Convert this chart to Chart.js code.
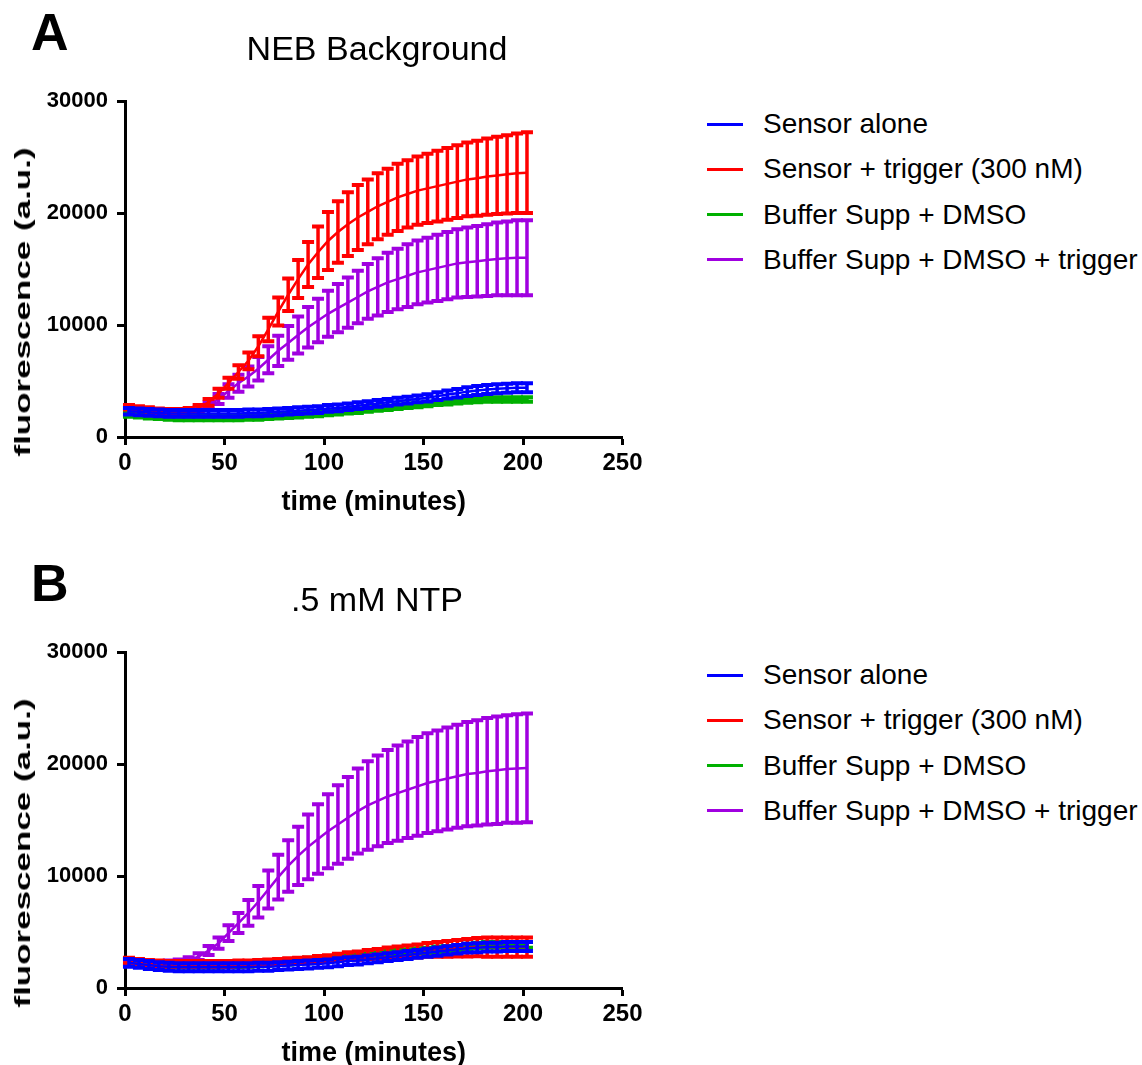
<!DOCTYPE html>
<html>
<head>
<meta charset="utf-8">
<title>Sensor fluorescence time course</title>
<script src="https://cdn.jsdelivr.net/npm/chart.js@4.4.1/dist/chart.umd.min.js"></script>
<style>
  body { margin: 0; width: 1142px; height: 1065px; overflow: hidden; background: #fff;
         font-family: 'Liberation Sans', Arial, sans-serif; color: #000; }
  .panel { position: absolute; left: 0; width: 1142px; height: 520px; }
  .panel canvas { position: absolute; left: 0; top: 0; }
  .tag { position: absolute; left: 31px; top: 6px; font-size: 52px; font-weight: bold; line-height: 1; }
  .ptitle { position: absolute; left: 377px; top: 31px; font-size: 34px; line-height: 1;
            transform: translateX(-50%); white-space: nowrap; }
  .ytitle { position: absolute; left: 23px; top: 302px; font-size: 22px; font-weight: bold; line-height: 1;
            white-space: nowrap; transform: translate(-50%, -50%) rotate(-90deg) scaleX(1.59); }
  .legend-row { position: absolute; left: 707px; height: 0; }
  .legend-row .swatch { position: absolute; left: 0; top: -1.5px; width: 36px; height: 3px; }
  .legend-row .label { position: absolute; left: 56px; top: -14px; font-size: 28px; line-height: 1; white-space: nowrap; }
</style>
</head>
<body>

<div class="panel" id="panelA" style="top:0">
  <canvas id="chartA" width="660" height="520"></canvas>
  <div class="tag">A</div>
  <div class="ptitle">NEB Background</div>
  <div class="ytitle">fluorescence (a.u.)</div>
</div>

<div class="panel" id="panelB" style="top:551px">
  <canvas id="chartB" width="660" height="520"></canvas>
  <div class="tag">B</div>
  <div class="ptitle">.5 mM NTP</div>
  <div class="ytitle">fluorescence (a.u.)</div>
</div>

<script>
// sampling times (minutes), shared by both panels
const timeMin = [2, 7, 12, 17, 22, 27, 32, 37, 42, 47, 52, 57, 62, 67, 72, 77, 82, 87, 92, 97,
  102, 107, 112, 117, 122, 127, 132, 137, 142, 147, 152, 157, 162, 167, 172, 177, 182, 187, 192, 197, 202];

const seriesNames = ['Sensor alone', 'Sensor + trigger (300 nM)', 'Buffer Supp + DMSO', 'Buffer Supp + DMSO + trigger'];
const seriesColors = ['#0000FF', '#FF0000', '#00B000', '#A000E0'];

const xTicks = [0, 50, 100, 150, 200, 250];
const yTicks = [0, 10000, 20000, 30000];

// Panel A: NEB background (mean, error)
const nebSensor = [2300, 2250, 2200, 2150, 2100, 2100, 2100, 2100, 2100, 2100, 2100, 2100, 2150, 2150, 2200, 2250, 2300, 2350, 2400, 2450,
  2550, 2600, 2700, 2800, 2900, 3000, 3100, 3200, 3300, 3400, 3500, 3650, 3800, 3900, 4050, 4150, 4250, 4300, 4350, 4400, 4400];
const nebSensorErr = [300, 300, 300, 300, 300, 300, 300, 300, 300, 300, 300, 300, 300, 300, 300, 300, 300, 300, 300, 300,
  300, 300, 300, 300, 300, 300, 300, 300, 300, 300, 320, 340, 360, 380, 400, 400, 400, 400, 400, 400, 400];
const nebTrigger = [2650, 2550, 2450, 2350, 2300, 2300, 2400, 2600, 3100, 3900, 4800, 5800, 6800, 8100, 9600, 11200, 12700, 14100, 15400, 16500,
  17500, 18300, 19000, 19600, 20100, 20600, 21000, 21400, 21700, 22000, 22200, 22400, 22600, 22800, 23000, 23100, 23250, 23350, 23450, 23550, 23600];
const nebTriggerErr = [200, 200, 200, 200, 200, 200, 200, 250, 300, 400, 500, 600, 750, 900, 1050, 1250, 1450, 1700, 2000, 2300,
  2600, 2750, 2850, 2900, 2900, 2950, 2950, 3000, 3000, 3050, 3100, 3150, 3200, 3250, 3300, 3350, 3400, 3450, 3500, 3550, 3600];
const nebBuffer = [2000, 1950, 1850, 1800, 1750, 1700, 1700, 1700, 1700, 1700, 1700, 1700, 1750, 1750, 1800, 1850, 1900, 1950, 2000, 2050,
  2150, 2200, 2300, 2350, 2450, 2550, 2600, 2700, 2800, 2850, 2950, 3050, 3100, 3200, 3250, 3300, 3350, 3350, 3350, 3350, 3350];
const nebBufferErr = [200, 200, 200, 200, 200, 200, 200, 200, 200, 200, 200, 200, 200, 200, 200, 200, 200, 200, 200, 200,
  200, 200, 200, 200, 200, 200, 200, 200, 200, 200, 200, 200, 200, 200, 200, 200, 200, 200, 200, 200, 200];
const nebBufferTrigger = [2350, 2300, 2250, 2200, 2200, 2200, 2250, 2400, 2800, 3400, 4100, 4800, 5400, 6100, 6900, 7700, 8400, 9100, 9800, 10400,
  11000, 11500, 12000, 12500, 13000, 13400, 13800, 14100, 14400, 14700, 14900, 15100, 15300, 15500, 15600, 15700, 15800, 15900, 15950, 16000, 16000];
const nebBufferTriggerErr = [200, 200, 200, 200, 200, 200, 200, 250, 300, 450, 600, 750, 900, 1050, 1200, 1350, 1500, 1650, 1800, 1950,
  2050, 2150, 2250, 2350, 2450, 2550, 2650, 2700, 2800, 2850, 2900, 2950, 3000, 3050, 3100, 3150, 3200, 3250, 3300, 3350, 3350];

// Panel B: 0.5 mM NTP (mean, error)
const ntpSensor = [2250, 2150, 2050, 1950, 1900, 1850, 1850, 1850, 1850, 1850, 1850, 1850, 1850, 1900, 1900, 1950, 2000, 2050, 2100, 2150,
  2200, 2300, 2400, 2450, 2550, 2650, 2750, 2850, 2950, 3050, 3150, 3250, 3350, 3450, 3550, 3600, 3650, 3650, 3700, 3700, 3700];
const ntpSensorErr = [350, 350, 350, 350, 350, 350, 350, 350, 350, 350, 350, 350, 350, 350, 350, 350, 350, 350, 350, 350,
  350, 350, 350, 350, 350, 350, 350, 350, 350, 350, 350, 360, 370, 380, 390, 400, 400, 400, 400, 400, 400];
const ntpTrigger = [2450, 2350, 2250, 2200, 2150, 2150, 2150, 2150, 2150, 2150, 2150, 2200, 2200, 2250, 2300, 2350, 2400, 2450, 2500, 2600,
  2650, 2750, 2850, 2900, 3000, 3050, 3150, 3200, 3250, 3300, 3400, 3450, 3500, 3550, 3600, 3650, 3650, 3650, 3650, 3650, 3650];
const ntpTriggerErr = [250, 250, 250, 250, 250, 250, 250, 250, 250, 250, 250, 250, 250, 250, 250, 250, 250, 250, 250, 250,
  280, 310, 340, 370, 400, 430, 460, 500, 540, 580, 620, 660, 700, 740, 780, 820, 850, 850, 850, 850, 850];
const ntpBuffer = [2350, 2250, 2150, 2100, 2050, 2050, 2050, 2050, 2050, 2050, 2100, 2100, 2150, 2200, 2250, 2300, 2350, 2400, 2450, 2550,
  2600, 2700, 2800, 2850, 2950, 3000, 3100, 3150, 3200, 3300, 3350, 3450, 3500, 3600, 3700, 3800, 3850, 3850, 3850, 3850, 3850];
const ntpBufferErr = [250, 250, 250, 250, 250, 250, 250, 250, 250, 250, 250, 250, 250, 250, 250, 250, 250, 250, 250, 250,
  250, 250, 250, 250, 250, 250, 250, 250, 250, 250, 250, 250, 250, 250, 250, 250, 250, 250, 250, 250, 250];
const ntpBufferTrigger = [2300, 2250, 2200, 2200, 2250, 2350, 2500, 2800, 3350, 4000, 4900, 5800, 6700, 7700, 8800, 9900, 10900, 11800, 12600, 13300,
  14000, 14600, 15200, 15800, 16300, 16700, 17100, 17400, 17700, 18000, 18300, 18500, 18700, 18900, 19100, 19200, 19350, 19450, 19550, 19600, 19650];
const ntpBufferTriggerErr = [200, 200, 200, 200, 200, 200, 250, 300, 400, 500, 700, 900, 1150, 1400, 1700, 2000, 2300, 2600, 2900, 3100,
  3300, 3500, 3650, 3800, 3950, 4050, 4150, 4250, 4300, 4400, 4450, 4500, 4550, 4600, 4650, 4700, 4750, 4800, 4800, 4850, 4850];

// vertical error bars with flat caps, drawn right after each line so stacking follows dataset order
const errorBars = {
  id: 'errorBars',
  afterDatasetDraw(chart, args) {
    const ds = chart.data.datasets[args.index];
    if (!ds.errors) return;
    const yScale = chart.scales.y;
    const ctx = chart.ctx;
    ctx.save();
    ctx.strokeStyle = ds.borderColor;
    ctx.lineCap = 'butt';
    args.meta.data.forEach((pt, i) => {
      const v = ds.data[i].y;
      const e = ds.errors[i];
      const top = yScale.getPixelForValue(v + e);
      const bot = yScale.getPixelForValue(v - e);
      ctx.lineWidth = 3.5;
      ctx.beginPath();
      ctx.moveTo(pt.x, top);
      ctx.lineTo(pt.x, bot);
      ctx.stroke();
      ctx.lineWidth = 4;
      ctx.beginPath();
      ctx.moveTo(pt.x - 6, top);
      ctx.lineTo(pt.x + 6, top);
      ctx.moveTo(pt.x - 6, bot);
      ctx.lineTo(pt.x + 6, bot);
      ctx.stroke();
    });
    ctx.restore();
  }
};

function toPoints(values) {
  return values.map((v, i) => ({ x: timeMin[i], y: v }));
}

function buildPanel(canvasId, panelEl, means, errs) {
  const datasets = means.map((m, k) => ({
    label: seriesNames[k],
    data: toPoints(m),
    errors: errs[k],
    borderColor: seriesColors[k],
    backgroundColor: seriesColors[k],
    borderWidth: 2.5,
    pointRadius: 0,
    tension: 0,
    fill: false
  }));

  const tickFont = { family: "'Liberation Sans', Arial, sans-serif", size: 22, weight: 'bold' };
  const tickFontX = { family: "'Liberation Sans', Arial, sans-serif", size: 24, weight: 'bold' };

  const chart = new Chart(document.getElementById(canvasId), {
    type: 'line',
    data: { datasets },
    options: {
      responsive: false,
      animation: false,
      devicePixelRatio: 1,
      layout: { padding: { left: 0, top: 101, right: 37.5, bottom: 0 } },
      plugins: { legend: { display: false }, tooltip: { enabled: false } },
      scales: {
        x: {
          type: 'linear',
          min: 0,
          max: 250,
          afterFit: s => { s.height = 83; },
          afterBuildTicks: s => { s.ticks = xTicks.map(v => ({ value: v })); },
          border: { display: true, width: 3, color: '#000' },
          grid: { display: true, drawOnChartArea: false, drawTicks: true, tickLength: 8, tickWidth: 3, tickColor: '#000', color: '#000' },
          ticks: { color: '#000', font: tickFontX, padding: 4, maxRotation: 0 },
          title: { display: true, text: 'time (minutes)', color: '#000',
                   font: { family: "'Liberation Sans', Arial, sans-serif", size: 27, weight: 'bold' },
                   padding: { top: 0, bottom: 1 } }
        },
        y: {
          min: 0,
          max: 30000,
          afterFit: s => { s.width = 125; },
          afterBuildTicks: s => { s.ticks = yTicks.map(v => ({ value: v })); },
          border: { display: true, width: 3, color: '#000' },
          grid: { display: true, drawOnChartArea: false, drawTicks: true, tickLength: 8, tickWidth: 3, tickColor: '#000', color: '#000' },
          ticks: { color: '#000', font: tickFont, padding: 9, callback: v => String(v) }
        }
      }
    },
    plugins: [errorBars]
  });

  // legend to the right of the plot, built from the datasets
  chart.data.datasets.forEach((ds, k) => {
    const row = document.createElement('div');
    row.className = 'legend-row';
    row.style.top = (124 + k * 45.3) + 'px';
    const sw = document.createElement('span');
    sw.className = 'swatch';
    sw.style.background = ds.borderColor;
    const lb = document.createElement('span');
    lb.className = 'label';
    lb.textContent = ds.label;
    row.appendChild(sw);
    row.appendChild(lb);
    panelEl.appendChild(row);
  });
  return chart;
}

buildPanel('chartA', document.getElementById('panelA'),
  [nebSensor, nebTrigger, nebBuffer, nebBufferTrigger],
  [nebSensorErr, nebTriggerErr, nebBufferErr, nebBufferTriggerErr]);

buildPanel('chartB', document.getElementById('panelB'),
  [ntpSensor, ntpTrigger, ntpBuffer, ntpBufferTrigger],
  [ntpSensorErr, ntpTriggerErr, ntpBufferErr, ntpBufferTriggerErr]);
</script>
</body>
</html>
